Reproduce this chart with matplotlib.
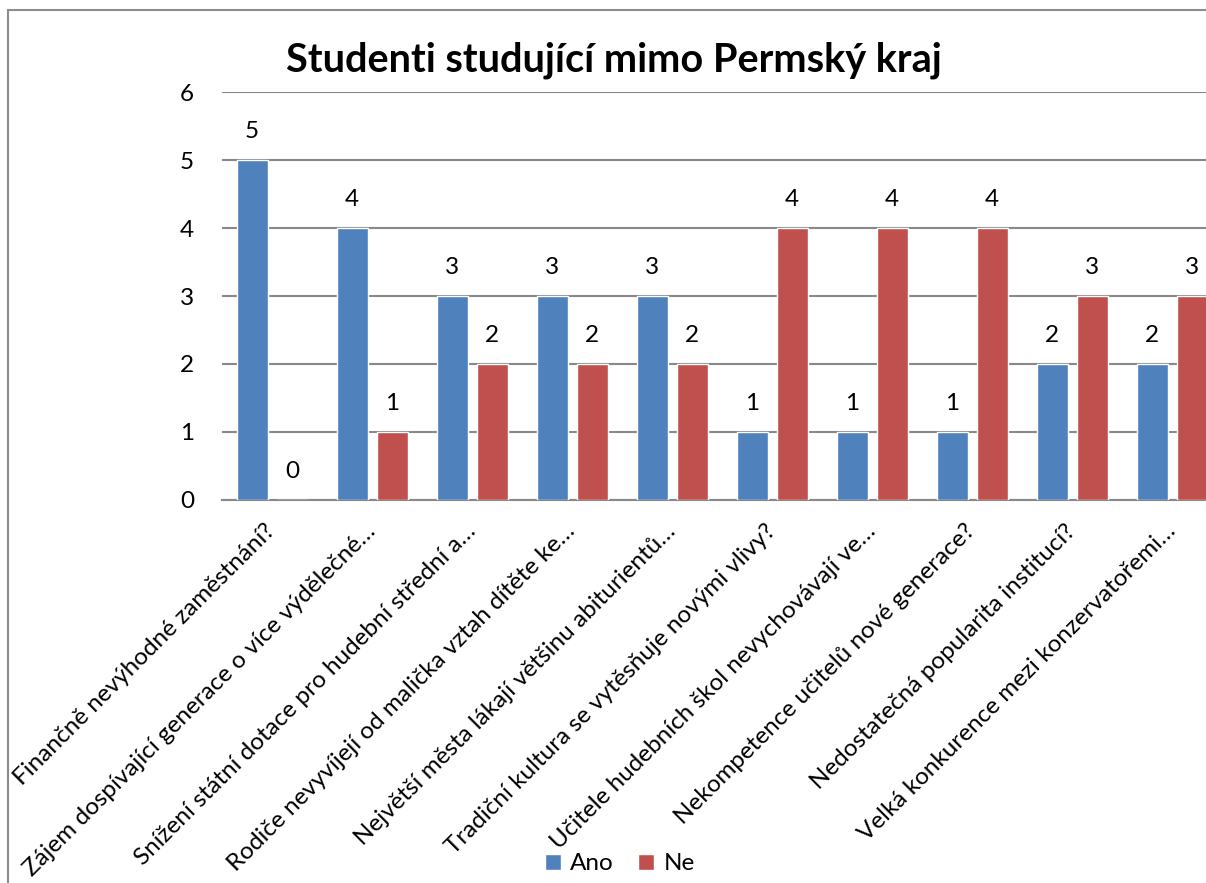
import matplotlib.pyplot as plt
import numpy as np
from matplotlib.patches import Rectangle

categories = [
    "Finančně nevýhodné zaměstnání?",
    "Zájem dospívající generace o více výdělečné…",
    "Snížení státní dotace pro hudební střední a…",
    "Rodiče nevyvíjejí od malička vztah dítěte ke…",
    "Největší města lákají většinu abiturientů…",
    "Tradiční kultura se vytěsňuje novými vlivy?",
    "Učitele hudebních škol nevychovávají ve…",
    "Nekompetence učitelů nové generace?",
    "Nedostatečná popularita institucí?",
    "Velká konkurence mezi konzervatořemi…",
]
ano = [5, 4, 3, 3, 3, 1, 1, 1, 2, 2]
ne = [0, 1, 2, 2, 2, 4, 4, 4, 3, 3]

plt.rcParams['font.family'] = ['Lato', 'DejaVu Sans']

W, H = 1206, 883
fig = plt.figure(figsize=(W / 100, H / 100), dpi=100)

# outer chart border (runs off the right/bottom edge like the source)
fig.patches.append(Rectangle((8 / W, -0.1), 1.2, 1 - 10 / H + 0.1,
                             transform=fig.transFigure, fill=False,
                             edgecolor='#8c8c8c', linewidth=1.5))

ax = fig.add_axes([222 / W, 383 / H, 1000 / W, 408 / H])

x = np.arange(len(categories))
w = 0.31
b1 = ax.bar(x - 0.2, ano, w, color='#4F81BD', edgecolor='white', linewidth=1, label='Ano', zorder=3)
b2 = ax.bar(x + 0.2, ne, w, color='#C0504D', edgecolor='white', linewidth=1, label='Ne', zorder=3)

for bars in (b1, b2):
    for r in bars:
        ax.annotate(f"{int(r.get_height())}", (r.get_x() + r.get_width() / 2, r.get_height()),
                    xytext=(0, 13), textcoords='offset points', ha='center', va='bottom',
                    fontsize=17.5)

ax.set_xlim(-0.5, len(categories) - 0.5)
ax.set_ylim(0, 6)
ax.set_yticks(range(7))
ax.yaxis.grid(True, color='#888888', linewidth=1.5, zorder=0)
ax.set_axisbelow(True)
for s in ('left', 'right', 'top'):
    ax.spines[s].set_visible(False)
ax.spines['bottom'].set_color('#888888')
ax.spines['bottom'].set_linewidth(1.5)
ax.tick_params(axis='both', length=0, labelsize=17.5)
ax.tick_params(axis='y', pad=20)
ax.set_xticks(x)
ax.set_xticklabels(categories, rotation=45, ha='right', va='center',
                   rotation_mode='anchor', fontsize=17.5)
ax.tick_params(axis='x', pad=20)

fig.text(614 / W, 1 - 60 / H, "Studenti studující mimo Permský kraj",
         ha='center', va='center', fontsize=28.5, fontweight='bold')

fig.legend(handles=[b1, b2], labels=['Ano', 'Ne'], loc='center', bbox_to_anchor=(620 / W, 1 - 864 / H),
           ncol=2, frameon=False, fontsize=17.5, handlelength=0.65, handleheight=0.65,
           handletextpad=0.4, columnspacing=1.0)

fig.savefig('out.png', dpi=100)
